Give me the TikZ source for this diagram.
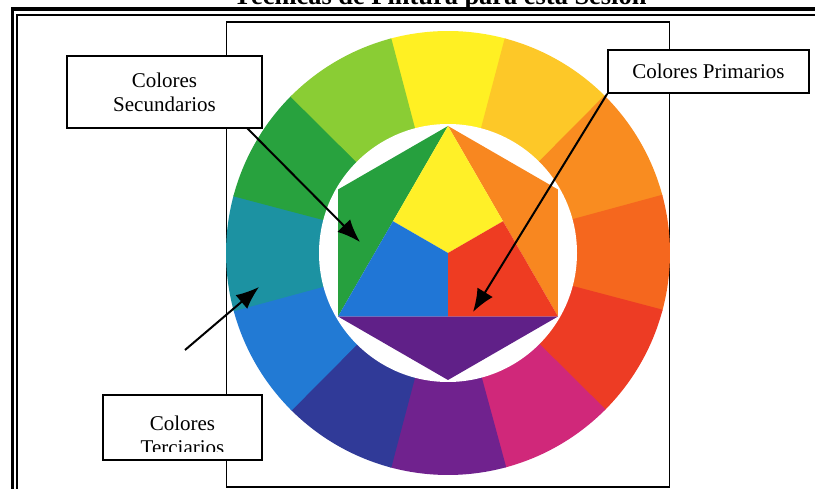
\documentclass[tikz,border=0pt]{standalone}
\usepackage{fontspec}
\setmainfont{Liberation Serif}
\usepackage{xcolor}
\usepackage{tikz}
\usetikzlibrary{calc}
\usetikzlibrary{arrows.meta}
\usetikzlibrary{positioning}

\definecolor{ringY}{RGB}{255,240,35}
\definecolor{ringYO}{RGB}{253,200,40}
\definecolor{ringO}{RGB}{249,140,32}
\definecolor{ringRO}{RGB}{245,103,30}
\definecolor{ringR}{RGB}{237,60,36}
\definecolor{ringRV}{RGB}{208,40,122}
\definecolor{ringV}{RGB}{112,34,142}
\definecolor{ringBV}{RGB}{48,58,152}
\definecolor{ringB}{RGB}{34,122,212}
\definecolor{ringBG}{RGB}{28,146,162}
\definecolor{ringG}{RGB}{40,162,62}
\definecolor{ringYG}{RGB}{138,205,52}
\definecolor{hexY}{RGB}{255,240,40}
\definecolor{hexG}{RGB}{38,160,62}
\definecolor{hexO}{RGB}{248,135,32}
\definecolor{hexB}{RGB}{32,118,214}
\definecolor{hexR}{RGB}{238,60,34}
\definecolor{hexV}{RGB}{96,32,136}

\begin{document}
\begin{tikzpicture}[x=1pt, y=-1pt,
  label box/.style={rectangle, draw=black, line width=1.6pt, fill=white, inner sep=0pt, align=center, font=\fontsize{21}{24}\selectfont},
  box text/.style={inner sep=0pt, align=center, font=\fontsize{21}{24}\selectfont},
  pointer/.style={-{Latex[length=23pt, width=18pt]}, line width=2pt, draw=black}]
\useasboundingbox (0,0) rectangle (815,489);
\node [anchor=base, inner sep=0pt, font=\fontsize{26.4}{30}\selectfont\bfseries] (title) at (440,5) {Técnicas de Pintura para esta Sesión};
\draw [line width=3.7pt] (12.5,489) -- (12.5,9.2) -- (815,9.2);
\draw [line width=1.7pt] (16.8,489) -- (16.8,14.8) -- (815,14.8);
\draw [line width=1.6pt] (226.5,22) rectangle (669.5,487);

\begin{scope}[shift={(448,253)}, y=1pt]
\foreach \ang/\col in {90/ringY, 60/ringYO, 30/ringO, 0/ringRO, -30/ringR, -60/ringRV, -90/ringV, -120/ringBV, -150/ringB, 180/ringBG, 150/ringG, 120/ringYG}
  \fill [\col] (0,0) -- (\ang-15.2:222) arc [start angle=\ang-15.2, end angle=\ang+15.2, radius=222] -- cycle;
\fill [white] (0,0) circle [radius=129];
\coordinate (T) at (90:127);
\coordinate (UL) at (150:127);
\coordinate (LL) at (210:127);
\coordinate (B) at (270:127);
\coordinate (LR) at (330:127);
\coordinate (UR) at (30:127);
\coordinate (C) at (0,0);
\coordinate (ML) at ($(T)!0.5!(LL)$);
\coordinate (MR) at ($(T)!0.5!(LR)$);
\coordinate (MB) at ($(LL)!0.5!(LR)$);
\fill [hexG] (T) -- (UL) -- (LL) -- cycle;
\fill [hexO] (T) -- (UR) -- (LR) -- cycle;
\fill [hexV] (LL) -- (B) -- (LR) -- cycle;
\fill [hexY] (T) -- (MR) -- (C) -- (ML) -- cycle;
\fill [hexB] (ML) -- (C) -- (MB) -- (LL) -- cycle;
\fill [hexR] (C) -- (MR) -- (LR) -- (MB) -- cycle;
\end{scope}

\node [label box, minimum width=195, minimum height=72] (sec) at (164.5,92) {Colores\\Secundarios};
\node [label box, minimum width=201, minimum height=43] (prim) at (708.5,71.5) {Colores Primarios};
\node [label box, minimum width=159, minimum height=65] (terc) at (182.5,427.5) {};
\begin{scope}
\clip (104,396) rectangle (261,451);
\node [box text] (tercText) at (182.5,435) {Colores\\Terciarios};
\end{scope}

\coordinate (secFoot) at (247,128);
\coordinate (greenTip) at (360,242);
\coordinate (redTip) at (473,312);
\coordinate (tealTail) at (185,350);
\coordinate (tealTip) at (259,287);
\draw [pointer] (secFoot) -- (greenTip);
\draw [pointer] (prim.south west) -- (redTip);
\draw [pointer] (tealTail) -- (tealTip);
\end{tikzpicture}
\end{document}
